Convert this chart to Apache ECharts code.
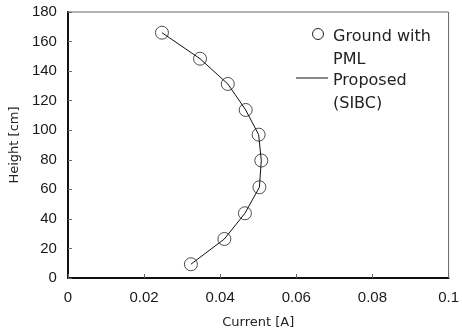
<!DOCTYPE html>
<html>
<head>
<meta charset="utf-8">
<script src="https://cdn.jsdelivr.net/npm/echarts@6/dist/echarts.min.js"></script>
<style>
  html, body { margin: 0; padding: 0; background: #fff; }
  #chart { width: 462px; height: 334px; }
</style>
</head>
<body>
<div id="chart"></div>
<script>
// heights [cm] of the sample points
const heights = [166, 148.4, 131.3, 113.7, 97, 79.5, 61.4, 43.8, 26.4, 9.3];
// current [A], ground with PML (circles)
const groundPml = [0.0247, 0.0347, 0.0420, 0.0467, 0.0501, 0.0508, 0.0503, 0.0465, 0.0411, 0.0323];
// current [A], proposed SIBC (line)
const proposedSibc = [0.0247, 0.0347, 0.0420, 0.0467, 0.0501, 0.0508, 0.0503, 0.0465, 0.0411, 0.0323];

const font = "DejaVu Sans";
const tickFont = "Liberation Sans";
const chart = echarts.init(document.getElementById("chart"), null, { renderer: "canvas" });

chart.setOption({
  animation: false,
  backgroundColor: "#fff",
  grid: {
    left: 64.5, right: 9, top: 12, bottom: 56,
    show: true, borderColor: "#666", borderWidth: 1
  },
  xAxis: {
    type: "value", min: 0, max: 0.1, interval: 0.02,
    name: "Current [A]", nameLocation: "middle", nameGap: 38,
    nameTextStyle: { fontFamily: font, fontSize: 13, color: "#222" },
    axisLine: { lineStyle: { color: "#111", width: 2 } },
    axisTick: { inside: true, length: 4, lineStyle: { color: "#666" } },
    axisLabel: {
      margin: 12, fontFamily: tickFont, fontSize: 15, color: "#1a1a1a",
      formatter: v => (v === 0 ? "0" : String(+v.toFixed(2)))
    },
    splitLine: { show: false }
  },
  yAxis: {
    type: "value", min: 0, max: 180, interval: 20,
    name: "Height [cm]", nameLocation: "middle", nameGap: 46,
    nameTextStyle: { fontFamily: font, fontSize: 13, color: "#222" },
    axisLine: { lineStyle: { color: "#111", width: 2 } },
    axisTick: { inside: true, length: 4, lineStyle: { color: "#666" } },
    axisLabel: { margin: 11, fontFamily: tickFont, fontSize: 15, color: "#1a1a1a" },
    splitLine: { show: false }
  },
  series: [
    {
      name: "Ground with PML",
      type: "scatter",
      symbol: "circle",
      symbolSize: 13,
      itemStyle: { color: "rgba(0,0,0,0)", borderColor: "#222", borderWidth: 1 },
      data: heights.map((h, i) => [groundPml[i], h]),
      z: 2
    },
    {
      name: "Proposed (SIBC)",
      type: "line",
      showSymbol: false,
      lineStyle: { color: "#111", width: 1 },
      data: heights.map((h, i) => [proposedSibc[i], h]),
      z: 3
    }
  ],
  graphic: [
    { type: "circle", shape: { cx: 318, cy: 34, r: 5.5 },
      style: { fill: "none", stroke: "#222", lineWidth: 1 } },
    { type: "text", left: 333, top: 25,
      style: { text: "Ground with\nPML", font: "16px '" + font + "'", fill: "#222", lineHeight: 23 } },
    { type: "line", shape: { x1: 296, y1: 78, x2: 328, y2: 78 },
      style: { stroke: "#111", lineWidth: 1 } },
    { type: "text", left: 333, top: 69,
      style: { text: "Proposed\n(SIBC)", font: "16px '" + font + "'", fill: "#222", lineHeight: 23 } }
  ]
});
</script>
</body>
</html>
